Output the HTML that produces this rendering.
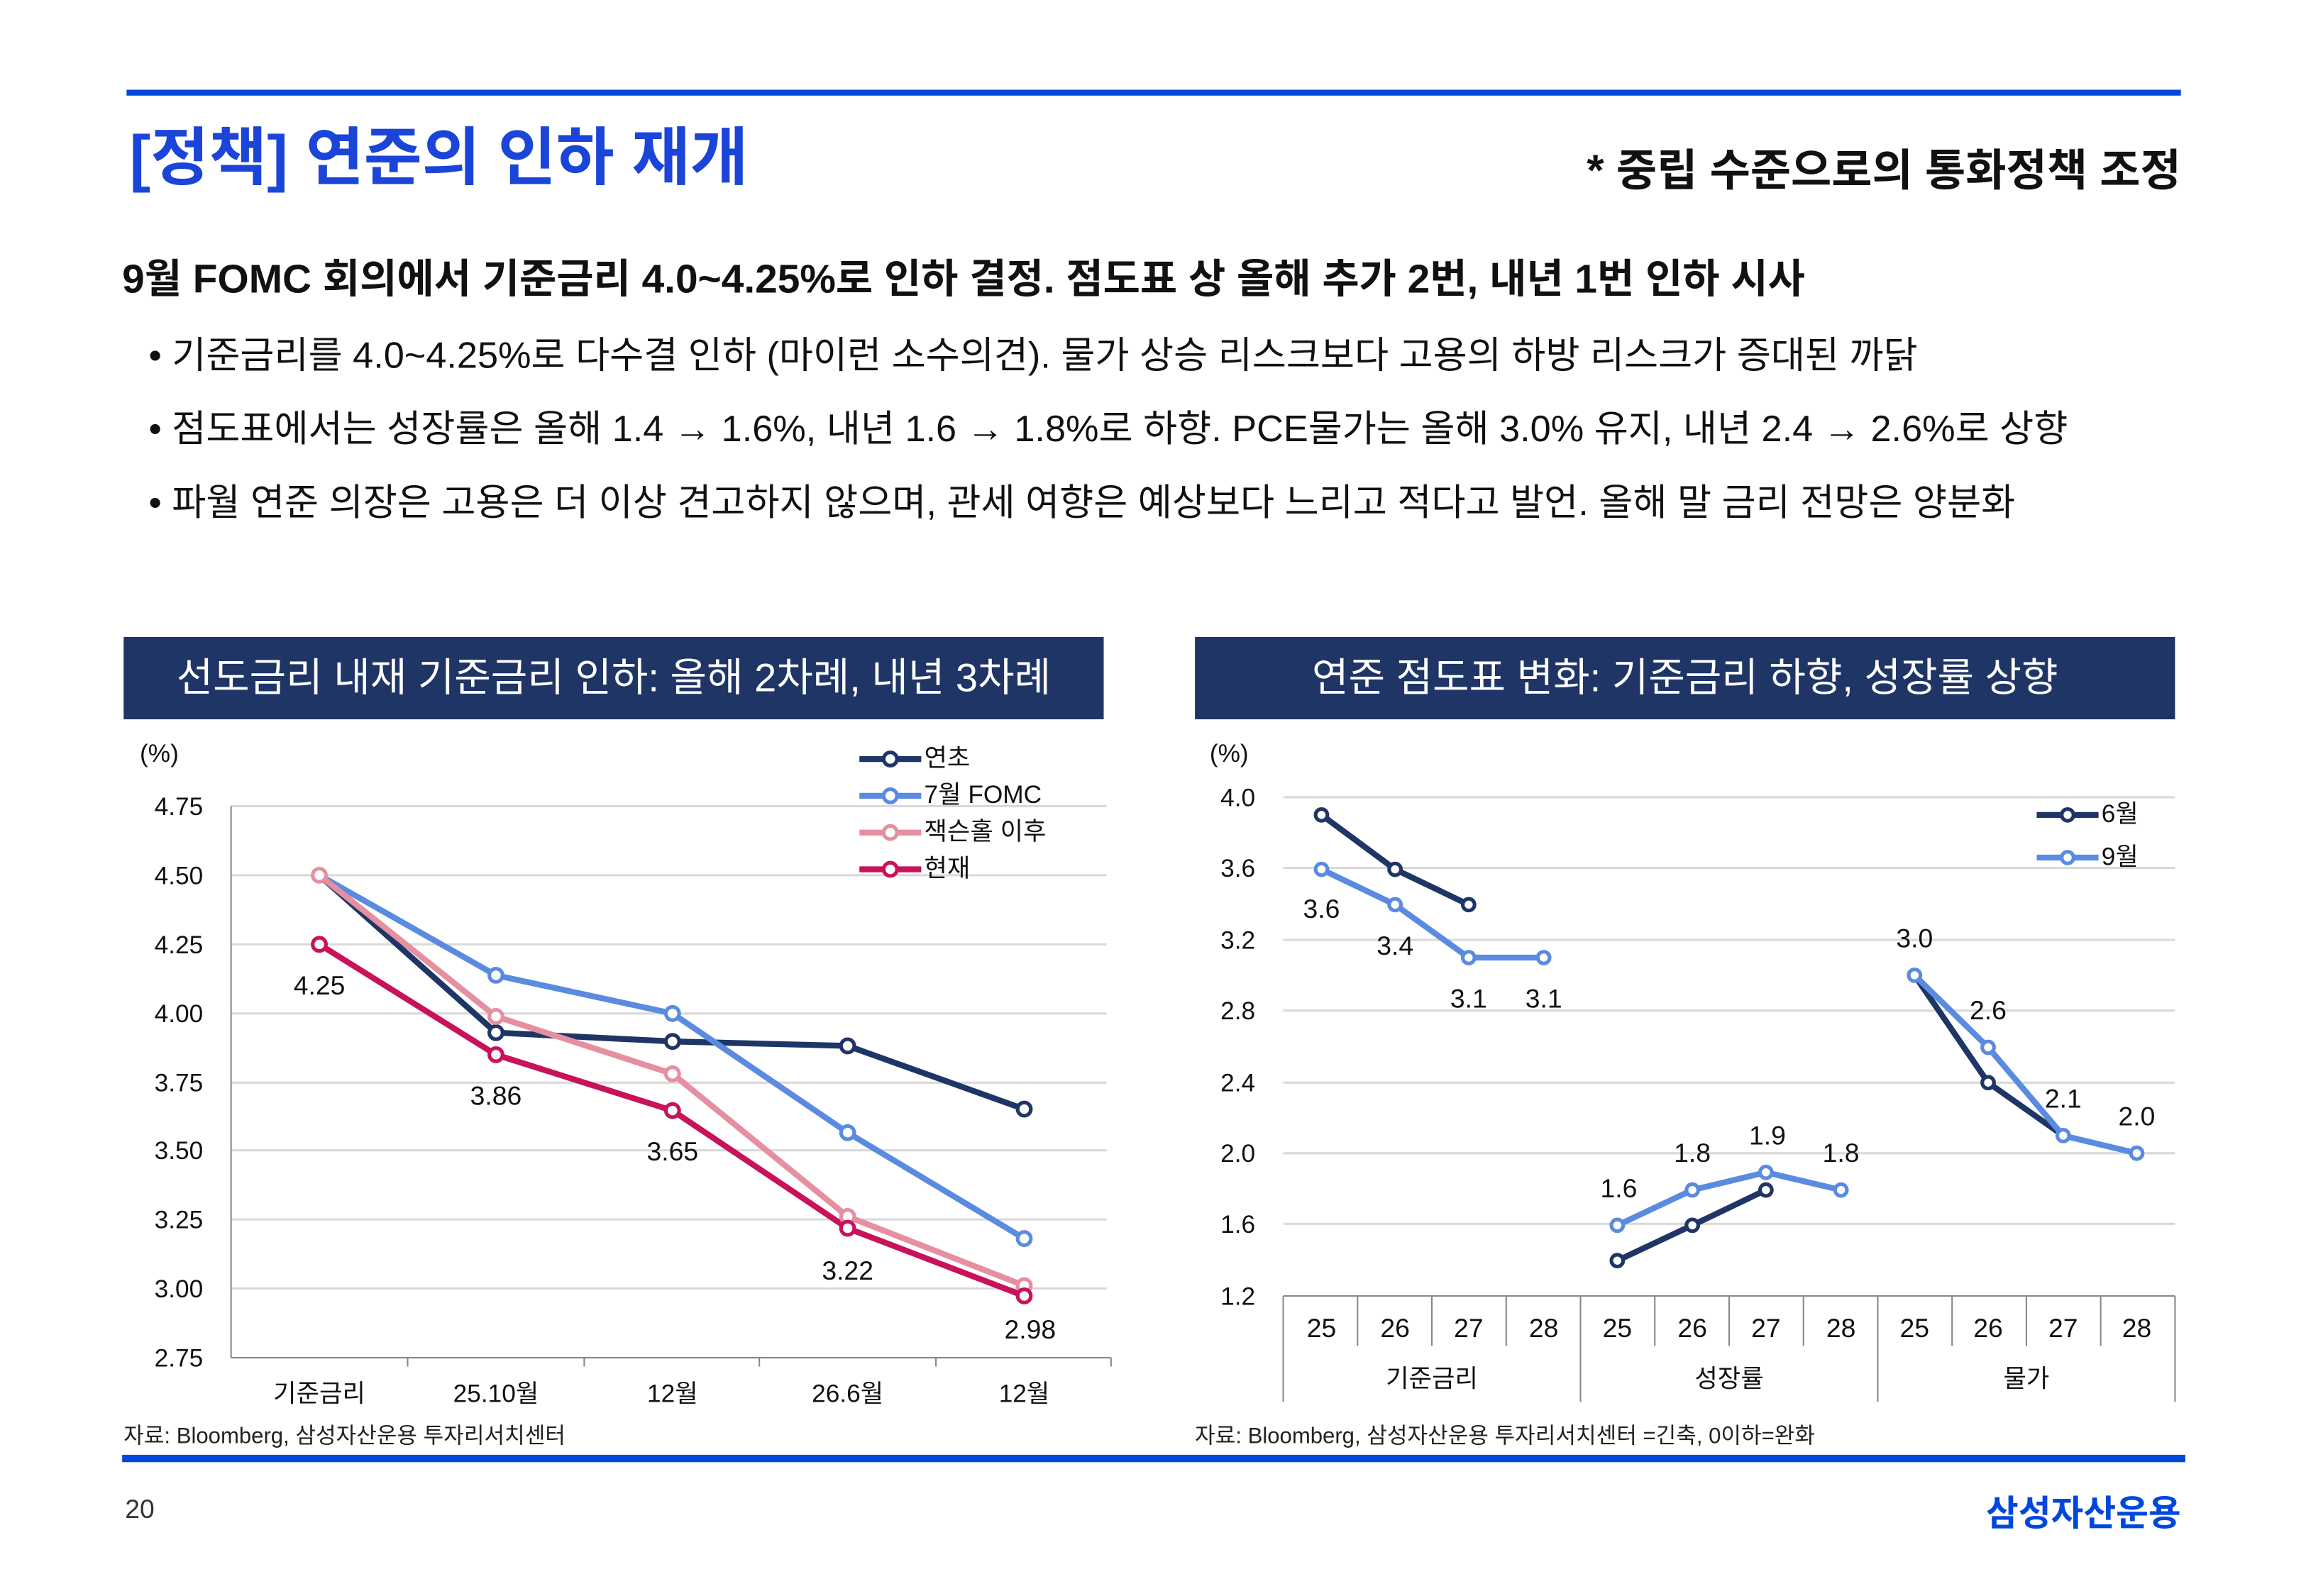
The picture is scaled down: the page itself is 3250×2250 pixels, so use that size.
<!DOCTYPE html>
<html><head><meta charset="utf-8"><style>
html,body{margin:0;padding:0;background:#fff;}
svg{display:block;}
text{font-family:"Liberation Sans","Noto Sans CJK KR",sans-serif;}
</style></head><body>
<svg width="3250" height="2250" viewBox="0 0 1567 1085" preserveAspectRatio="none" xmlns="http://www.w3.org/2000/svg">
<rect x="86" y="61" width="1396" height="4" fill="#0047de"/>
<text x="88" y="122" font-size="43" font-weight="bold" fill="#1a45d8">[정책] 연준의 인하 재개</text>
<text x="1482" y="126" font-size="30" font-weight="bold" text-anchor="end" fill="#111">* 중립 수준으로의 통화정책 조정</text>
<text x="83" y="199" font-size="27.4" font-weight="bold" fill="#111">9월 FOMC 회의에서 기준금리 4.0~4.25%로 인하 결정. 점도표 상 올해 추가 2번, 내년 1번 인하 시사</text>
<g font-size="25.2" fill="#111">
<text x="101" y="250">• 기준금리를 4.0~4.25%로 다수결 인하 (마이런 소수의견). 물가 상승 리스크보다 고용의 하방 리스크가 증대된 까닭</text>
<text x="101" y="300">• 점도표에서는 성장률은 올해 1.4 → 1.6%, 내년 1.6 → 1.8%로 하향. PCE물가는 올해 3.0% 유지, 내년 2.4 → 2.6%로 상향</text>
<text x="101" y="350">• 파월 연준 의장은 고용은 더 이상 견고하지 않으며, 관세 여향은 예상보다 느리고 적다고 발언. 올해 말 금리 전망은 양분화</text>
</g>
<rect x="84" y="433" width="666" height="56" fill="#1f3566"/>
<text x="417" y="470" font-size="27" fill="#fff" text-anchor="middle">선도금리 내재 기준금리 인하: 올해 2차례, 내년 3차례</text>
<rect x="812" y="433" width="666" height="56" fill="#1f3566"/>
<text x="1145" y="470" font-size="27" fill="#fff" text-anchor="middle">연준 점도표 변화: 기준금리 하향, 성장률 상향</text>

<!-- left chart -->
<g font-size="17" fill="#111">
<text x="95" y="518">(%)</text>
<g stroke="#d9d9d9" stroke-width="1.5">
<line x1="157" x2="752" y1="548" y2="548"/><line x1="157" x2="752" y1="595" y2="595"/><line x1="157" x2="752" y1="642" y2="642"/><line x1="157" x2="752" y1="689" y2="689"/><line x1="157" x2="752" y1="736" y2="736"/><line x1="157" x2="752" y1="782" y2="782"/><line x1="157" x2="752" y1="829" y2="829"/><line x1="157" x2="752" y1="876" y2="876"/>
</g>
<g stroke="#888" stroke-width="1"><line x1="157" x2="157" y1="548" y2="923"/><line x1="157" x2="755" y1="923" y2="923"/>
<line x1="277" x2="277" y1="923" y2="929"/><line x1="397" x2="397" y1="923" y2="929"/><line x1="516" x2="516" y1="923" y2="929"/><line x1="636" x2="636" y1="923" y2="929"/><line x1="755" x2="755" y1="923" y2="929"/></g>
<g text-anchor="end"><text x="138" y="554">4.75</text><text x="138" y="601">4.50</text><text x="138" y="648">4.25</text><text x="138" y="695">4.00</text><text x="138" y="742">3.75</text><text x="138" y="788">3.50</text><text x="138" y="835">3.25</text><text x="138" y="882">3.00</text><text x="138" y="929">2.75</text></g>
<g text-anchor="middle"><text x="217" y="953">기준금리</text><text x="337" y="953">25.10월</text><text x="457" y="953">12월</text><text x="576" y="953">26.6월</text><text x="696" y="953">12월</text></g>
<g fill="none" stroke-width="4" stroke-linejoin="round">
<polyline stroke="#1f3566" points="217,595 337,702 457,708 576,711 696,754"/>
<polyline stroke="#5b8be0" points="217,595 337,663 457,689 576,770 696,842"/>
<polyline stroke="#e58fa0" points="217,595 337,691 457,730 576,827 696,874"/>
<polyline stroke="#c8125a" points="217,642 337,717 457,755 576,835 696,881"/>
</g>
<g fill="#fff" stroke-width="2.5">
<g stroke="#1f3566"><circle cx="337" cy="702" r="4.5"/><circle cx="457" cy="708" r="4.5"/><circle cx="576" cy="711" r="4.5"/><circle cx="696" cy="754" r="4.5"/></g>
<g stroke="#5b8be0"><circle cx="337" cy="663" r="4.5"/><circle cx="457" cy="689" r="4.5"/><circle cx="576" cy="770" r="4.5"/><circle cx="696" cy="842" r="4.5"/></g>
<g stroke="#e58fa0"><circle cx="217" cy="595" r="4.5"/><circle cx="337" cy="691" r="4.5"/><circle cx="457" cy="730" r="4.5"/><circle cx="576" cy="827" r="4.5"/><circle cx="696" cy="874" r="4.5"/></g>
<g stroke="#c8125a"><circle cx="217" cy="642" r="4.5"/><circle cx="337" cy="717" r="4.5"/><circle cx="457" cy="755" r="4.5"/><circle cx="576" cy="835" r="4.5"/><circle cx="696" cy="881" r="4.5"/></g>
</g>
<g text-anchor="middle" font-size="18"><text x="217" y="676">4.25</text><text x="337" y="751">3.86</text><text x="457" y="789">3.65</text><text x="576" y="870">3.22</text><text x="700" y="910">2.98</text></g>
<g stroke-width="4"><line x1="584" x2="626" y1="516" y2="516" stroke="#1f3566"/><line x1="584" x2="626" y1="541" y2="541" stroke="#5b8be0"/><line x1="584" x2="626" y1="566" y2="566" stroke="#e58fa0"/><line x1="584" x2="626" y1="591" y2="591" stroke="#c8125a"/></g>
<g fill="#fff" stroke-width="2.5"><circle cx="605" cy="516" r="4.5" stroke="#1f3566"/><circle cx="605" cy="541" r="4.5" stroke="#5b8be0"/><circle cx="605" cy="566" r="4.5" stroke="#e58fa0"/><circle cx="605" cy="591" r="4.5" stroke="#c8125a"/></g>
<text x="628" y="521">연초</text><text x="628" y="546">7월 FOMC</text><text x="628" y="571">잭슨홀 이후</text><text x="628" y="596">현재</text>
</g>

<!-- right chart -->
<g font-size="17" fill="#111">
<text x="822" y="518">(%)</text>
<g stroke="#d9d9d9" stroke-width="1.5">
<line x1="872" x2="1478" y1="542" y2="542"/><line x1="872" x2="1478" y1="590" y2="590"/><line x1="872" x2="1478" y1="639" y2="639"/><line x1="872" x2="1478" y1="687" y2="687"/><line x1="872" x2="1478" y1="736" y2="736"/><line x1="872" x2="1478" y1="784" y2="784"/><line x1="872" x2="1478" y1="832" y2="832"/>
</g>
<g stroke="#888" stroke-width="1"><line x1="872" x2="1478" y1="881" y2="881"/>
<line x1="872" x2="872" y1="881" y2="953"/><line x1="922.5" x2="922.5" y1="881" y2="915"/><line x1="973" x2="973" y1="881" y2="915"/><line x1="1023.5" x2="1023.5" y1="881" y2="915"/><line x1="1074" x2="1074" y1="881" y2="953"/><line x1="1124.5" x2="1124.5" y1="881" y2="915"/><line x1="1175" x2="1175" y1="881" y2="915"/><line x1="1225.5" x2="1225.5" y1="881" y2="915"/><line x1="1276" x2="1276" y1="881" y2="953"/><line x1="1326.5" x2="1326.5" y1="881" y2="915"/><line x1="1377" x2="1377" y1="881" y2="915"/><line x1="1427.5" x2="1427.5" y1="881" y2="915"/><line x1="1478" x2="1478" y1="881" y2="953"/></g>
<g text-anchor="end"><text x="853" y="548">4.0</text><text x="853" y="596">3.6</text><text x="853" y="645">3.2</text><text x="853" y="693">2.8</text><text x="853" y="742">2.4</text><text x="853" y="790">2.0</text><text x="853" y="838">1.6</text><text x="853" y="887">1.2</text></g>
<g text-anchor="middle" font-size="18"><text x="898" y="909">25</text><text x="948" y="909">26</text><text x="998" y="909">27</text><text x="1049" y="909">28</text><text x="1099" y="909">25</text><text x="1150" y="909">26</text><text x="1200" y="909">27</text><text x="1251" y="909">28</text><text x="1301" y="909">25</text><text x="1351" y="909">26</text><text x="1402" y="909">27</text><text x="1452" y="909">28</text></g>
<g text-anchor="middle"><text x="973" y="943">기준금리</text><text x="1175" y="943">성장률</text><text x="1377" y="943">물가</text></g>
<g fill="none" stroke-width="4" stroke-linejoin="round">
<polyline stroke="#1f3566" points="898,554 948,591 998,615"/>
<polyline stroke="#1f3566" points="1099,857 1150,833 1200,809"/>
<polyline stroke="#1f3566" points="1301,663 1351,736 1402,772"/>
<polyline stroke="#5b8be0" points="898,591 948,615 998,651 1049,651"/>
<polyline stroke="#5b8be0" points="1099,833 1150,809 1200,797 1251,809"/>
<polyline stroke="#5b8be0" points="1301,663 1351,712 1402,772 1452,784"/>
</g>
<g fill="#fff" stroke-width="2.5">
<g stroke="#1f3566"><circle cx="898" cy="554" r="4"/><circle cx="948" cy="591" r="4"/><circle cx="998" cy="615" r="4"/><circle cx="1099" cy="857" r="4"/><circle cx="1150" cy="833" r="4"/><circle cx="1200" cy="809" r="4"/><circle cx="1351" cy="736" r="4"/></g>
<g stroke="#5b8be0"><circle cx="898" cy="591" r="4"/><circle cx="948" cy="615" r="4"/><circle cx="998" cy="651" r="4"/><circle cx="1049" cy="651" r="4"/><circle cx="1099" cy="833" r="4"/><circle cx="1150" cy="809" r="4"/><circle cx="1200" cy="797" r="4"/><circle cx="1251" cy="809" r="4"/><circle cx="1301" cy="663" r="4"/><circle cx="1351" cy="712" r="4"/><circle cx="1402" cy="772" r="4"/><circle cx="1452" cy="784" r="4"/></g>
</g>
<g text-anchor="middle" font-size="18"><text x="898" y="624">3.6</text><text x="948" y="649">3.4</text><text x="998" y="685">3.1</text><text x="1049" y="685">3.1</text><text x="1100" y="814">1.6</text><text x="1150" y="790">1.8</text><text x="1201" y="778">1.9</text><text x="1251" y="790">1.8</text><text x="1301" y="644">3.0</text><text x="1351" y="693">2.6</text><text x="1402" y="753">2.1</text><text x="1452" y="765">2.0</text></g>
<g stroke-width="4"><line x1="1384" x2="1426" y1="554" y2="554" stroke="#1f3566"/><line x1="1384" x2="1426" y1="583" y2="583" stroke="#5b8be0"/></g>
<g fill="#fff" stroke-width="2.5"><circle cx="1405" cy="554" r="4" stroke="#1f3566"/><circle cx="1405" cy="583" r="4" stroke="#5b8be0"/></g>
<text x="1428" y="559">6월</text><text x="1428" y="588">9월</text>
</g>

<g font-size="15" fill="#222"><text x="84" y="981">자료: Bloomberg, 삼성자산운용 투자리서치센터</text><text x="812" y="981">자료: Bloomberg, 삼성자산운용 투자리서치센터 =긴축, 0이하=완화</text></g>
<rect x="83" y="989" width="1402" height="5" fill="#0047de"/>
<text x="85" y="1032" font-size="18" fill="#333">20</text>
<text x="1482" y="1037" font-size="24" font-weight="bold" fill="#0047de" text-anchor="end">삼성자산운용</text>
</svg>
</body></html>
